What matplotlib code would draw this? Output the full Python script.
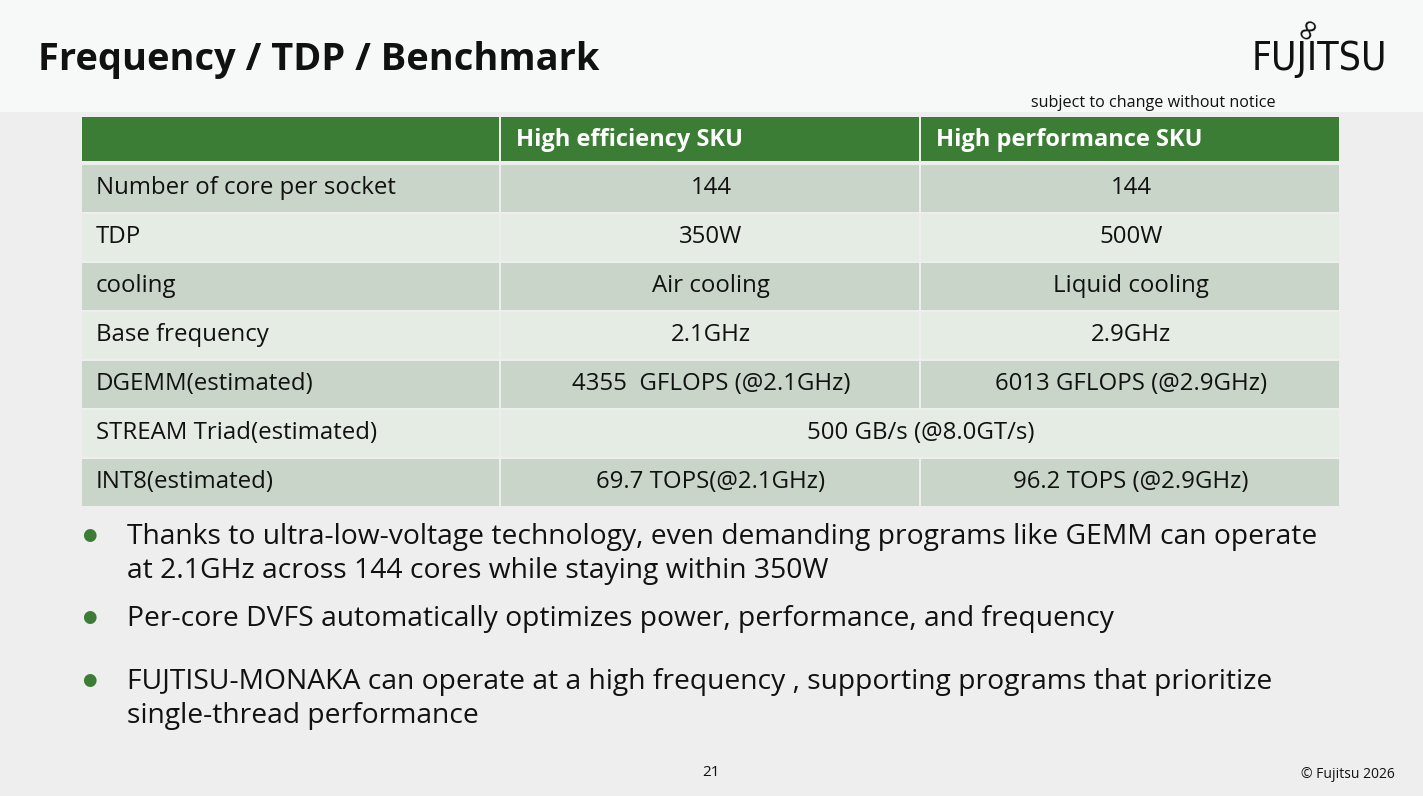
import matplotlib
matplotlib.use('agg')
import matplotlib.pyplot as plt
from matplotlib.patches import Rectangle

plt.rcParams['font.family'] = ['Open Sans', 'DejaVu Sans']

title = 'Frequency / TDP / Benchmark'
col_heads = ['', 'High efficiency SKU', 'High performance SKU']
row_labels = ['Number of core per socket', 'TDP', 'cooling', 'Base frequency',
              'DGEMM(estimated)', 'STREAM Triad(estimated)', 'INT8(estimated)']
eff_vals = ['144', '350W', 'Air cooling', '2.1GHz', '4355  GFLOPS (@2.1GHz)',
            '500 GB/s (@8.0GT/s)', '69.7 TOPS(@2.1GHz)']
perf_vals = ['144', '500W', 'Liquid cooling', '2.9GHz', '6013 GFLOPS (@2.9GHz)',
             None, '96.2 TOPS (@2.9GHz)']
bullets = [
    ['Thanks to ultra-low-voltage technology, even demanding programs like GEMM can operate',
     'at 2.1GHz across 144 cores while staying within 350W'],
    ['Per-core DVFS automatically optimizes power, performance, and frequency'],
    ['FUJTISU-MONAKA can operate at a high frequency , supporting programs that prioritize',
     'single-thread performance'],
]

W, H = 1423, 796
fig = plt.figure(figsize=(W / 100, H / 100), dpi=100)
ax = fig.add_axes([0, 0, 1, 1])
ax.set_xlim(0, W)
ax.set_ylim(H, 0)
ax.axis('off')

# background
ax.add_patch(Rectangle((0, 0), W, H, facecolor='#eeeeee', lw=0, zorder=0))
ax.add_patch(Rectangle((0, 0), W, 112, facecolor='#f7f8f8', lw=0, zorder=0))

ax.text(38, 60, title, fontsize=27.4, fontweight='bold', color='#111111', va='center', ha='left')

# logo
ax.text(1319, 59, 'FUJITSU', fontsize=28, family=['DejaVu Sans'], stretch='condensed',
        color='#111111', ha='center', va='center')
ax.text(1308, 28, '∞', fontsize=22, family='DejaVu Sans', color='#111111',
        ha='center', va='center', rotation=60)
ax.text(1276, 103, 'subject to change without notice', fontsize=11.6, color='#111111',
        ha='right', va='center')

# table
col_x = [82, 501, 921, 1341]
head_top, head_h = 117, 44
row_top, row_h, gap = 165, 47, 1.95
green = '#3b7d34'
row_colors = ['#cad5ca', '#e4ece4']
fs = 17.3

for j in range(3):
    ax.add_patch(Rectangle((col_x[j], head_top), col_x[j + 1] - col_x[j] - 2, head_h,
                           facecolor=green, lw=0, zorder=1))
    if col_heads[j]:
        ax.text(col_x[j] + 15, head_top + head_h / 2 + 1, col_heads[j], fontsize=17,
                fontweight='bold', color='white', va='center', ha='left')

for i, lab in enumerate(row_labels):
    y0 = row_top + i * (row_h + gap)
    c = row_colors[i % 2]
    yc = y0 + row_h / 2
    ax.add_patch(Rectangle((col_x[0], y0), col_x[1] - col_x[0] - 2, row_h,
                           facecolor=c, lw=0, zorder=1))
    ax.text(col_x[0] + 14, yc, lab, fontsize=fs, color='#111111', va='center', ha='left')
    if perf_vals[i] is None:
        ax.add_patch(Rectangle((col_x[1], y0), col_x[3] - col_x[1] - 2, row_h,
                               facecolor=c, lw=0, zorder=1))
        ax.text((col_x[1] + col_x[3]) / 2, yc, eff_vals[i], fontsize=fs, color='#111111',
                va='center', ha='center')
    else:
        for j, v in ((1, eff_vals[i]), (2, perf_vals[i])):
            ax.add_patch(Rectangle((col_x[j], y0), col_x[j + 1] - col_x[j] - 2, row_h,
                                   facecolor=c, lw=0, zorder=1))
            ax.text((col_x[j] + col_x[j + 1]) / 2, yc, v, fontsize=fs, color='#111111',
                    va='center', ha='center')

# bullets
bullet_y = [535, 617, 680]
for by, lines in zip(bullet_y, bullets):
    ax.text(89, by, '●', fontsize=12, family='DejaVu Sans', color='#3b7d34',
            va='center', ha='center')
    for k, line in enumerate(lines):
        ax.text(127, by + k * 34 + 2, line, fontsize=20.3, color='#111111',
                va='center', ha='left')

ax.text(711, 772, '21', fontsize=11, color='#111111', ha='center', va='center')
ax.text(1395, 775, '© Fujitsu 2026', fontsize=10, color='#111111', ha='right', va='center')

plt.savefig('out.png', dpi=100)
